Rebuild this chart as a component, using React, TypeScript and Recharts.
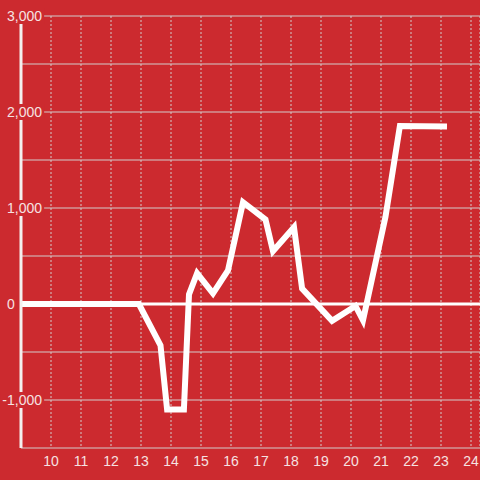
import { LineChart, Line, XAxis, YAxis, CartesianGrid, ReferenceLine } from "recharts"

const hours = [9, 12.93, 13.65, 13.87, 14.43, 14.6, 14.87, 15.4, 15.9, 16.4, 17.15, 17.4, 18.1, 18.37, 19.37, 20.15, 20.4, 21.15, 21.63, 23.2]
const values = [0, 0, -430, -1100, -1100, 100, 320, 110, 350, 1060, 880, 550, 800, 160, -175, -20, -170, 910, 1855, 1850]

const xTicks = [10, 11, 12, 13, 14, 15, 16, 17, 18, 19, 20, 21, 22, 23, 24]
const yTicks = [-1500, -1000, -500, 0, 500, 1000, 1500, 2000, 2500, 3000]
const yLabelTicks = [-1000, 0, 1000, 2000, 3000]

const data = hours.map((h, i) => ({ hour: h, value: values[i] }))

const BG = "#cc2a2f"
const TEXT = "#f6e2e2"
const GRID = "#d2cccc"

// rough glyph widths for 14px Liberation Sans
function textWidth(s: string) {
  let w = 0
  for (const c of s) w += c === "," ? 3.9 : c === "-" ? 4.7 : 7.8
  return w
}

function YTick({ y, payload }: { y?: number; payload?: { value: number } }) {
  const v = payload?.value ?? 0
  if (!yLabelTicks.includes(v)) return null
  const label = v.toLocaleString("en-US")
  const x0 = v < 0 ? 2.3 : 7
  const w = textWidth(label)
  return (
    <g>
      <rect x={x0 - 2} y={(y ?? 0) - 8} width={w + 4} height={16} fill={BG} />
      <text x={x0} y={y} dy="0.35em" textAnchor="start" fill={TEXT} fontSize={14}>
        {label}
      </text>
    </g>
  )
}

export default function App() {
  return (
    <div style={{ position: "absolute", left: 0, top: 0, width: 480, height: 480, background: BG, fontFamily: "'Liberation Sans', Arial, sans-serif" }}>
      <LineChart width={480} height={480} data={data} margin={{ top: 16, right: 0, bottom: 0, left: 0 }}>
        <CartesianGrid horizontal={false} stroke={GRID} strokeDasharray="2 2" />
        <CartesianGrid vertical={false} stroke={GRID} />
        <XAxis
          dataKey="hour"
          type="number"
          domain={[9, 24.3]}
          ticks={xTicks}
          axisLine={false}
          tickLine={false}
          height={32}
          tick={{ fill: TEXT, fontSize: 14 }}
        />
        <ReferenceLine y={0} stroke="#ffffff" strokeWidth={3} />
        <Line
          dataKey="value"
          stroke="#ffffff"
          strokeWidth={6}
          dot={false}
          type="linear"
          isAnimationActive={false}
        />
        <YAxis
          type="number"
          domain={[-1500, 3000]}
          ticks={yTicks}
          width={21}
          interval={0}
          axisLine={{ stroke: "#f4efef", strokeWidth: 3 }}
          tickLine={false}
          tick={<YTick />}
        />
      </LineChart>
    </div>
  )
}
